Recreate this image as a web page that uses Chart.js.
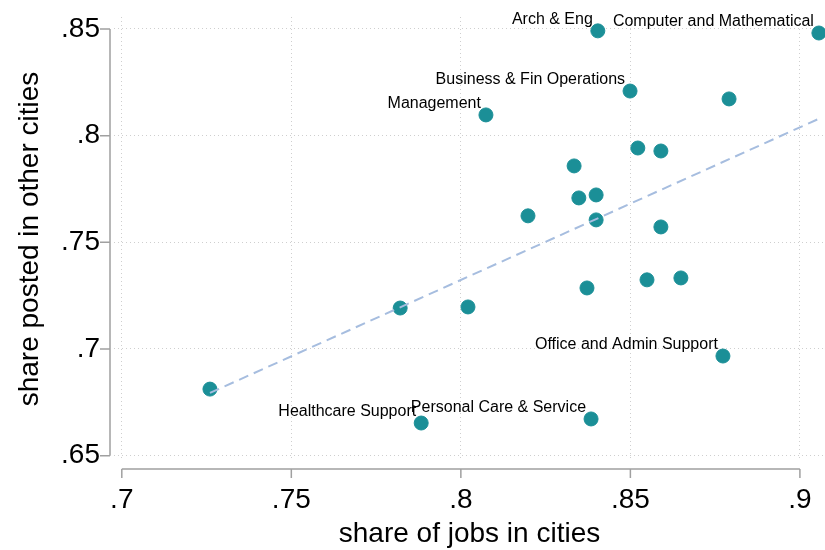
<!DOCTYPE html>
<html>
<head>
<meta charset="utf-8">
<script src="https://cdn.jsdelivr.net/npm/chart.js@4.4.1/dist/chart.umd.min.js"></script>
<style>
  html, body { margin: 0; padding: 0; background: #fff; }
  #wrap { width: 825px; height: 550px; }
</style>
</head>
<body>
<div id="wrap"><canvas id="myChart" width="825" height="550"></canvas></div>
<script>
// occupation groups: share of jobs in cities vs share of postings in other cities
const occLabels = [
    'Arch & Eng', 'Computer and Mathematical', 'Business & Fin Operations', '',
    'Management', '', '', '', '', '', '', '', '', '', '', '', '', '',
    'Office and Admin Support', '', 'Healthcare Support', 'Personal Care & Service'
];
const shareJobsCities = [
    0.8404, 0.9056, 0.8499, 0.8791, 0.8074, 0.8522, 0.8590, 0.8334, 0.8348, 0.8399, 0.8198,
    0.8399, 0.8590, 0.8372, 0.8549, 0.8649, 0.7821, 0.8021, 0.8773, 0.7260, 0.7883, 0.8384
];
const sharePostedOther = [
    0.8491, 0.8481, 0.8209, 0.8172, 0.8097, 0.7942, 0.7928, 0.7858, 0.7708, 0.7722, 0.7624,
    0.7605, 0.7572, 0.7286, 0.7324, 0.7333, 0.7192, 0.7197, 0.6967, 0.6812, 0.6653, 0.6672
];
// fitted line end points
const fitX = [0.726, 0.9056];
const fitY = [0.6794, 0.8079];

const xTicks = [0.7, 0.75, 0.8, 0.85, 0.9];
const yTicks = [0.65, 0.7, 0.75, 0.8, 0.85];

const FONT = "'Liberation Sans', Arial, sans-serif";
Chart.defaults.font.family = FONT;
Chart.defaults.color = '#000';

const fmt = v => String(v).replace(/^0/, '');

// Stata style axes: lines set off from the plot region
const axisLines = {
    id: 'axisLines',
    afterDraw(chart) {
        const ctx = chart.ctx;
        const xs = chart.scales.x, ys = chart.scales.y;
        const area = chart.chartArea;
        ctx.save();
        ctx.strokeStyle = '#a0a0a0';
        ctx.lineWidth = 1.5;
        const ax = area.left - 4;
        ctx.beginPath();
        ctx.moveTo(ax, ys.getPixelForValue(yTicks[0]));
        ctx.lineTo(ax, ys.getPixelForValue(yTicks[yTicks.length - 1]));
        yTicks.forEach(v => {
            const py = ys.getPixelForValue(v);
            ctx.moveTo(ax, py);
            ctx.lineTo(ax - 10, py);
        });
        const ay = area.bottom + 8;
        ctx.moveTo(xs.getPixelForValue(xTicks[0]), ay);
        ctx.lineTo(xs.getPixelForValue(xTicks[xTicks.length - 1]), ay);
        xTicks.forEach(v => {
            const px = xs.getPixelForValue(v);
            ctx.moveTo(px, ay);
            ctx.lineTo(px, ay + 9);
        });
        ctx.stroke();
        ctx.restore();
    },
    afterDatasetsDraw(chart) {
        const ctx = chart.ctx;
        const meta = chart.getDatasetMeta(1);
        ctx.save();
        ctx.font = '16px ' + FONT;
        ctx.fillStyle = '#000';
        ctx.textAlign = 'right';
        ctx.textBaseline = 'alphabetic';
        meta.data.forEach((pt, i) => {
            if (!occLabels[i]) return;
            ctx.fillText(occLabels[i], pt.x - 5, pt.y - 7);
        });
        ctx.restore();
    }
};

const ctx = document.getElementById('myChart').getContext('2d');
const myChart = new Chart(ctx, {
    type: 'scatter',
    data: {
        datasets: [{
            type: 'line',
            data: fitX.map((x, i) => ({ x: x, y: fitY[i] })),
            borderColor: '#a6bddf',
            borderWidth: 2,
            borderDash: [10, 6],
            pointRadius: 0,
            fill: false,
            order: 0
        }, {
            data: shareJobsCities.map((x, i) => ({ x: x, y: sharePostedOther[i] })),
            backgroundColor: '#1b8f97',
            borderColor: '#1b8f97',
            pointRadius: 7,
            order: 1
        }]
    },
    options: {
        responsive: false,
        animation: false,
        devicePixelRatio: 1,
        layout: { autoPadding: false, padding: { top: 17, right: 0, left: 0, bottom: 0 } },
        plugins: { legend: { display: false }, tooltip: { enabled: false } },
        scales: {
            x: {
                type: 'linear',
                min: 0.6977,
                max: 0.9074,
                afterBuildTicks: s => { s.ticks = xTicks.map(v => ({ value: v })); },
                afterFit: s => { s.height = 89; s.paddingLeft = 0; s.paddingRight = 0; },
                grid: { color: '#cfcfcf', lineWidth: 1, drawTicks: false },
                border: { display: false, dash: [1, 3] },
                ticks: { padding: 22, font: { size: 28 }, callback: fmt, maxRotation: 0 },
                title: { display: true, text: 'share of jobs in cities', font: { size: 28, lineHeight: 1.1 }, padding: { top: 0, bottom: 0 } }
            },
            y: {
                type: 'linear',
                min: 0.6475,
                max: 0.8556,
                afterBuildTicks: s => { s.ticks = yTicks.map(v => ({ value: v })); },
                afterFit: s => { s.width = 114; s.paddingTop = 0; s.paddingBottom = 0; },
                grid: { color: '#cfcfcf', lineWidth: 1, drawTicks: false },
                border: { display: false, dash: [1, 3] },
                ticks: { padding: 14, font: { size: 28 }, callback: fmt },
                title: { display: true, text: 'share posted in other cities', font: { size: 28, lineHeight: 1.1 }, padding: { top: 15, bottom: 0 } }
            }
        }
    },
    plugins: [axisLines]
});
</script>
</body>
</html>
